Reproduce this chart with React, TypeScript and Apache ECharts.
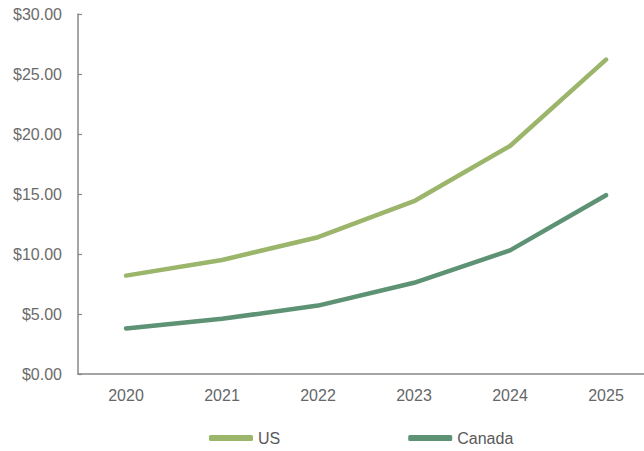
import React, { useEffect, useRef } from "react";
import * as echarts from "echarts";

const years = ["2020", "2021", "2022", "2023", "2024", "2025"];
const usValues = [8.2, 9.5, 11.4, 14.4, 19.0, 26.2];
const canadaValues = [3.8, 4.6, 5.7, 7.6, 10.3, 14.9];
const seriesNames = ["US", "Canada"];

export default function App() {
  const ref = useRef<HTMLDivElement>(null);
  useEffect(() => {
    if (!ref.current) return;
    const chart = echarts.init(ref.current, null, { renderer: "svg" });
    const font = "Liberation Sans, Arial, sans-serif";
    chart.setOption({
      animation: false,
      backgroundColor: "#ffffff",
      grid: { left: 78, top: 14, width: 576, height: 360, containLabel: false },
      legend: {
        left: 209,
        top: 428,
        padding: 0,
        itemWidth: 44,
        itemHeight: 6,
        itemGap: 128,
        icon: "roundRect",
        textStyle: { fontFamily: font, fontSize: 16, lineHeight: 20, color: "#595959" },
        data: seriesNames,
      },
      xAxis: {
        type: "category",
        data: years,
        boundaryGap: true,
        axisLine: { lineStyle: { color: "#878787", width: 1.5 } },
        axisTick: { inside: true, length: 5, lineStyle: { color: "#878787", width: 1.2 } },
        axisLabel: { fontFamily: font, fontSize: 16, color: "#666666", margin: 13 },
        splitLine: { show: false },
      },
      yAxis: {
        type: "value",
        min: 0,
        max: 30,
        interval: 5,
        axisLine: { show: true, lineStyle: { color: "#878787", width: 1.5 } },
        axisTick: { show: true, inside: true, length: 4, lineStyle: { color: "#878787", width: 1.2 } },
        axisLabel: {
          fontFamily: font,
          fontSize: 16,
          color: "#6b6b6b",
          margin: 16,
          formatter: (v: number) => "$" + v.toFixed(2),
        },
        splitLine: { show: false },
      },
      series: [
        {
          name: seriesNames[0],
          type: "line",
          data: usValues,
          showSymbol: false,
          symbol: "none",
          lineStyle: { color: "#9bb56b", width: 4.5, cap: "round", join: "round" },
          itemStyle: { color: "#9bb56b" },
        },
        {
          name: seriesNames[1],
          type: "line",
          data: canadaValues,
          showSymbol: false,
          symbol: "none",
          lineStyle: { color: "#5e9274", width: 4.5, cap: "round", join: "round" },
          itemStyle: { color: "#5e9274" },
        },
      ],
    });
    return () => chart.dispose();
  }, []);
  return (
    <div style={{ position: "absolute", left: 0, top: 0, width: 644, height: 451, overflow: "hidden" }}>
      <div ref={ref} style={{ width: 670, height: 451 }} />
    </div>
  );
}
